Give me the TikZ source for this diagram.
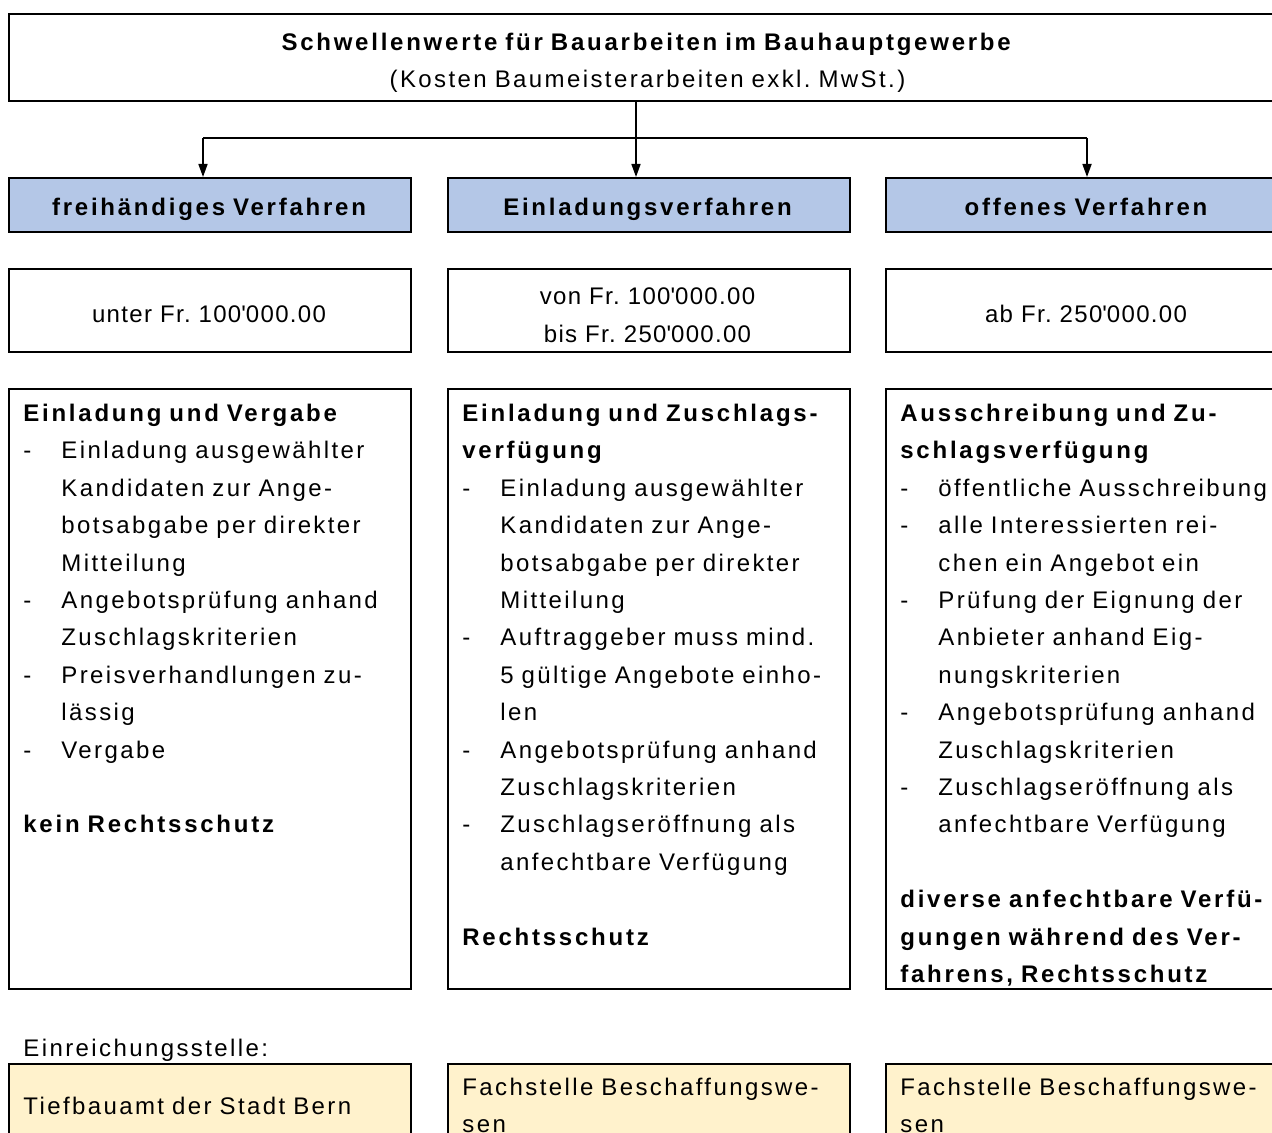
\documentclass[tikz,border=0pt]{standalone}
\usepackage{fontspec}
\setmainfont{Liberation Sans}[LetterSpace=10, BoldFeatures={LetterSpace=11.5}]
\usetikzlibrary{arrows.meta}

\definecolor{kopfblau}{RGB}{180,199,231}
\definecolor{stellegelb}{RGB}{255,242,204}
\newcommand{\strich}{\makebox[19pt][l]{-}}
\newcommand{\einzug}{\hspace*{19pt}}
\newcommand{\apo}{\textquotesingle}
\frenchspacing

\begin{document}
\begin{tikzpicture}[x=0.5pt, y=-0.5pt, font={\fontsize{12pt}{18.7pt}\selectfont},
  kasten/.style={draw, line width=1pt, anchor=north west, inner sep=0pt, minimum width=201pt},
  kopfkasten/.style={kasten, fill=kopfblau, minimum height=27pt},
  betragkasten/.style={kasten, minimum height=41.5pt},
  textkasten/.style={kasten, minimum height=300pt},
  gelbkasten/.style={kasten, fill=stellegelb, minimum height=60pt},
  zeile/.style={inner sep=0pt, anchor=base west, text width=230pt, align=left},
  mitte/.style={inner sep=0pt, anchor=base, text width=190pt, align=center},
  kopftext/.style={mitte, font={\fontsize{12pt}{18.7pt}\selectfont\bfseries\addfontfeature{LetterSpace=9.5}}},
  werttext/.style={mitte, font={\fontsize{12pt}{18.7pt}\selectfont\addfontfeature{LetterSpace=5.5}}},
  verbinder/.style={line width=0.8pt, -{Triangle[length=6.5pt,width=4.5pt]}}]
\useasboundingbox (0,0) rectangle (1272,1133);
\clip (0,0) rectangle (1272,1133);

% Titel
\node[kasten, minimum width=639.5pt, minimum height=43.5pt] (titel) at (8,13) {};
\node[mitte, text width=600pt] (titeltext) at (647.5,50.5)
  {\textbf{Schwellenwerte für Bauarbeiten im Bauhauptgewerbe}\\(Kosten Baumeisterarbeiten exkl. MwSt.)};

% Verfahren
\node[kopfkasten] (frei) at (8,177) {};
\node[kopfkasten] (einl) at (447,177) {};
\node[kopfkasten] (offen) at (885,177) {};
\node[kopftext] (freititel) at (209,216) {freihändiges Verfahren};
\node[kopftext] (einltitel) at (647.5,216) {Einladungsverfahren};
\node[kopftext] (offentitel) at (1086,216) {offenes Verfahren};

\coordinate (abzweig) at (636,138);
\coordinate (astlinks) at (203,138);
\coordinate (astrechts) at (1087,138);
\draw[verbinder] (titel.south -| abzweig) -- (abzweig |- einl.north);
\draw[line width=0.8pt] (astlinks) -- (astrechts);
\draw[verbinder] (astlinks) -- (astlinks |- frei.north);
\draw[verbinder] (astrechts) -- (astrechts |- offen.north);

% Schwellenwerte
\node[betragkasten] (freibetrag) at (8,268) {};
\node[betragkasten] (einlbetrag) at (447,268) {};
\node[betragkasten] (offenbetrag) at (885,268) {};
\node[werttext] (freiwert) at (209,323) {unter Fr. 100\apo000.00};
\node[werttext] (einlwert) at (647.5,305) {von Fr. 100\apo000.00\\bis Fr. 250\apo000.00};
\node[werttext] (offenwert) at (1086,323) {ab Fr. 250\apo000.00};

% Ablauf
\node[textkasten] (freiablauf) at (8,388) {};
\node[textkasten] (einlablauf) at (447,388) {};
\node[textkasten] (offenablauf) at (885,388) {};
\node[zeile] (freitext) at (23,421.5) {\textbf{Einladung und Vergabe}\\
  \strich Einladung ausgewählter\\
  \einzug Kandidaten zur Ange-\\
  \einzug botsabgabe per direkter\\
  \einzug Mitteilung\\
  \strich Angebotsprüfung anhand\\
  \einzug Zuschlagskriterien\\
  \strich Preisverhandlungen zu-\\
  \einzug lässig\\
  \strich Vergabe\\
  \mbox{}\\
  \textbf{kein Rechtsschutz}};
\node[zeile] (einltext) at (462,421.5) {\textbf{Einladung und Zuschlags-}\\
  \textbf{verfügung}\\
  \strich Einladung ausgewählter\\
  \einzug Kandidaten zur Ange-\\
  \einzug botsabgabe per direkter\\
  \einzug Mitteilung\\
  \strich Auftraggeber muss mind.\\
  \einzug 5 gültige Angebote einho-\\
  \einzug len\\
  \strich Angebotsprüfung anhand\\
  \einzug Zuschlagskriterien\\
  \strich Zuschlagseröffnung als\\
  \einzug anfechtbare Verfügung\\
  \mbox{}\\
  \textbf{Rechtsschutz}};
\node[zeile] (offentext) at (900,421.5) {\textbf{Ausschreibung und Zu-}\\
  \textbf{schlagsverfügung}\\
  \strich öffentliche Ausschreibung\\
  \strich alle Interessierten rei-\\
  \einzug chen ein Angebot ein\\
  \strich Prüfung der Eignung der\\
  \einzug Anbieter anhand Eig-\\
  \einzug nungskriterien\\
  \strich Angebotsprüfung anhand\\
  \einzug Zuschlagskriterien\\
  \strich Zuschlagseröffnung als\\
  \einzug anfechtbare Verfügung\\
  \mbox{}\\
  \textbf{diverse anfechtbare Verfü-}\\
  \textbf{gungen während des Ver-}\\
  \textbf{fahrens, Rechtsschutz}};

% Einreichungsstelle
\node[zeile] (stelle) at (23,1056.5) {Einreichungsstelle:};
\node[gelbkasten] (freistelle) at (8,1063) {};
\node[gelbkasten] (einlstelle) at (447,1063) {};
\node[gelbkasten] (offenstelle) at (885,1063) {};
\node[zeile] (freiamt) at (23,1114.5) {Tiefbauamt der Stadt Bern};
\node[zeile] (einlamt) at (462,1095.5) {Fachstelle Beschaffungswe-\\sen};
\node[zeile] (offenamt) at (900,1095.5) {Fachstelle Beschaffungswe-\\sen};
\end{tikzpicture}
\end{document}
